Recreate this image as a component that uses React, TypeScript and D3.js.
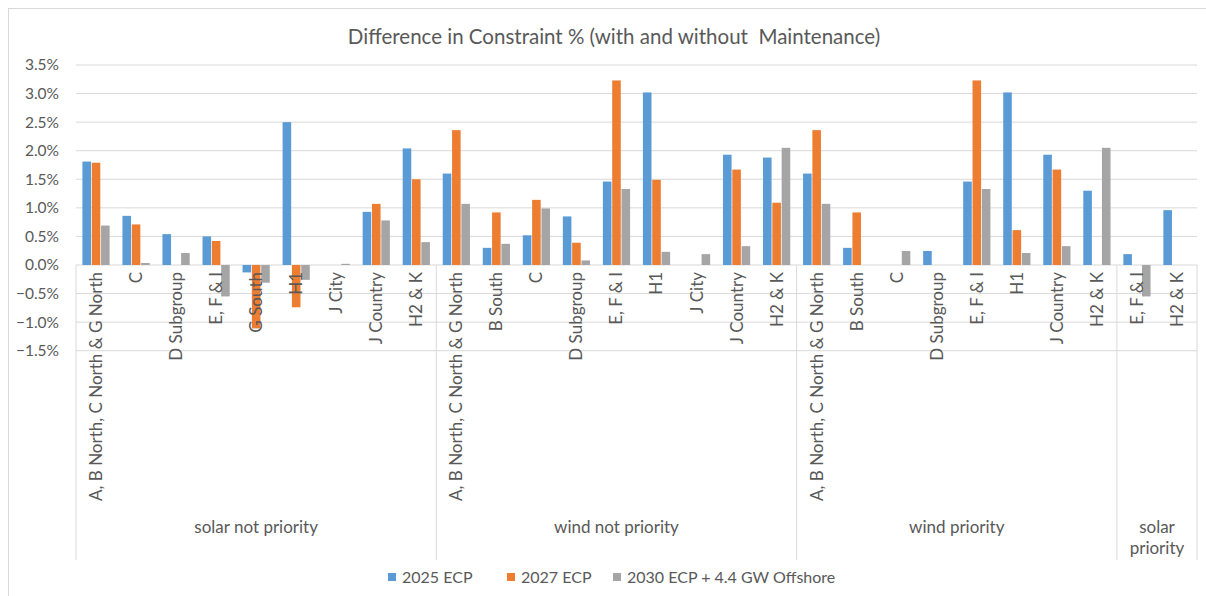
import * as d3 from 'd3';

const categoryLabels = [
  'A, B North, C North & G North', 'C', 'D Subgroup', 'E, F & I', 'G South', 'H1', 'J City', 'J Country', 'H2 & K',
  'A, B North, C North & G North', 'B South', 'C', 'D Subgroup', 'E, F & I', 'H1', 'J City', 'J Country', 'H2 & K',
  'A, B North, C North & G North', 'B South', 'C', 'D Subgroup', 'E, F & I', 'H1', 'J Country', 'H2 & K',
  'E, F & I', 'H2 & K',
];
const groupNames = ['solar not priority', 'wind not priority', 'wind priority', 'solar priority'];
const groupSizes = [9, 9, 8, 2];

const seriesNames = ['2025 ECP', '2027 ECP', '2030 ECP + 4.4 GW Offshore'];
const ecp2025 = [
  1.81, 0.86, 0.54, 0.50, -0.13, 2.50, 0, 0.93, 2.04,
  1.60, 0.30, 0.52, 0.85, 1.46, 3.02, 0, 1.93, 1.88,
  1.60, 0.30, 0, 0.245, 1.46, 3.02, 1.93, 1.30,
  0.19, 0.96,
];
const ecp2027 = [
  1.79, 0.71, 0, 0.42, -1.11, -0.74, 0, 1.07, 1.50,
  2.36, 0.92, 1.14, 0.39, 3.23, 1.49, 0, 1.67, 1.09,
  2.36, 0.92, 0, 0, 3.23, 0.61, 1.67, 0,
  0, 0,
];
const ecp2030 = [
  0.69, 0.035, 0.21, -0.55, -0.31, -0.26, 0.02, 0.78, 0.40,
  1.07, 0.37, 0.99, 0.08, 1.33, 0.23, 0.19, 0.33, 2.05,
  1.07, 0, 0.245, 0, 1.33, 0.21, 0.33, 2.05,
  -0.55, 0,
];
const yTicks = [-1.5, -1.0, -0.5, 0, 0.5, 1.0, 1.5, 2.0, 2.5, 3.0, 3.5];

const colors = ['#5B9BD5', '#ED7D31', '#A5A5A5'];
const font = 'Lato, "Open Sans", sans-serif';
const textColor = '#595959';
const gridColor = '#D9D9D9';

export default function App() {
  const width = 1206;
  const height = 596;
  const left = 76;
  const right = 1197;
  const axisBottom = 560;

  const series = [ecp2025, ecp2027, ecp2030];
  const idx = categoryLabels.map((_, i) => i);

  const x = d3.scaleBand<number>().domain(idx).range([left, right]);
  const bw = x.bandwidth();
  const sub = d3.scaleBand<number>().domain([0, 1, 2]).range([bw * 0.16, bw * 0.84]).paddingInner(0.08);
  const y = d3.scaleLinear().domain([-1.5, 3.5]).range([350.7, 65]);
  const fmt = d3.format('.1%');

  // group boundaries
  const bounds: number[] = [0];
  groupSizes.forEach((s, i) => bounds.push(bounds[i] + s));

  return (
    <svg width={width} height={height} style={{ position: 'absolute', left: 0, top: 0, background: '#fff' }}>
      <rect x={8.5} y={8.5} width={1220} height={620} fill="none" stroke={gridColor} />
      <text x={614} y={44} textAnchor="middle" fontFamily={font} fontSize={20.5} fill={textColor} style={{ whiteSpace: 'pre' }}>
        Difference in Constraint % (with and without  Maintenance)
      </text>

      {yTicks.map(t => (
        <g key={t}>
          <line x1={left} x2={right} y1={y(t)} y2={y(t)} stroke={gridColor} strokeWidth={1} />
          <text x={59} y={y(t)} dy="0.35em" textAnchor="end" fontFamily={font} fontSize={15.5} fill={textColor}>
            {fmt(t / 100)}
          </text>
        </g>
      ))}

      {bounds.map(b => {
        const xx = b < categoryLabels.length ? x(b)! : right;
        return <line key={b} x1={xx} x2={xx} y1={y(0)} y2={axisBottom} stroke={gridColor} strokeWidth={1} />;
      })}

      {series.map((vals, s) => (
        <g key={s} fill={colors[s]}>
          {vals.map((v, i) =>
            v === 0 ? null : (
              <rect
                key={i}
                x={x(i)! + sub(s)!}
                width={sub.bandwidth()}
                y={Math.min(y(v), y(0))}
                height={Math.abs(y(v) - y(0))}
              />
            )
          )}
        </g>
      ))}

      {categoryLabels.map((lab, i) => (
        <text
          key={i}
          transform={`translate(${x(i)! + bw / 2},272) rotate(-90)`}
          dy="0.35em"
          textAnchor="end"
          fontFamily={font}
          fontSize={17}
          fill={textColor}
        >
          {lab}
        </text>
      ))}

      {groupNames.map((g, gi) => {
        const x0 = x(bounds[gi])!;
        const x1 = bounds[gi + 1] < categoryLabels.length ? x(bounds[gi + 1])! : right;
        const cx = (x0 + x1) / 2;
        const lines = gi === 3 ? ['solar', 'priority'] : [g];
        return (
          <text key={g} textAnchor="middle" fontFamily={font} fontSize={17} fill={textColor}>
            {lines.map((l, li) => (
              <tspan key={li} x={cx} y={533 + li * 21}>{l}</tspan>
            ))}
          </text>
        );
      })}

      {[388, 507, 613].map((lx, s) => (
        <g key={s}>
          <rect x={lx} y={573} width={8} height={8} fill={colors[s]} />
          <text x={lx + 14} y={577} dy="0.35em" fontFamily={font} fontSize={16} fill={textColor}>
            {seriesNames[s]}
          </text>
        </g>
      ))}
    </svg>
  );
}
